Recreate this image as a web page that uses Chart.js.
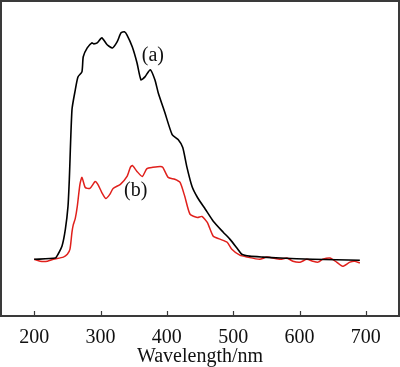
<!DOCTYPE html>
<html>
<head>
<meta charset="utf-8">
<script src="https://cdn.jsdelivr.net/npm/chart.js@4/dist/chart.umd.min.js"></script>
<style>
html,body{margin:0;padding:0;background:#fff;}
#wrap{width:400px;height:367px;position:relative;}
</style>
</head>
<body>
<div id="wrap"><canvas id="c" width="400" height="367"></canvas></div>
<script>
// Wavelength (nm) and absorbance (a.u.)
const waveA = [200,232,236,242,247,251,253,257,262,266,272,274,280,287,290,295,302,310,318,325,331,336,340,348,355,361,367,375,382,387,397,408,417,424,430,438,446,458,470,485,495,507,513,525,545,571,620,691];
const absA  = [0.180,0.184,0.196,0.222,0.275,0.348,0.434,0.655,0.718,0.759,0.775,0.823,0.851,0.867,0.864,0.867,0.883,0.861,0.851,0.870,0.899,0.902,0.892,0.854,0.804,0.750,0.759,0.782,0.750,0.709,0.646,0.576,0.560,0.535,0.475,0.411,0.377,0.339,0.301,0.266,0.244,0.212,0.196,0.190,0.187,0.184,0.180,0.177];

const waveB = [200,209,220,229,244,250,254,257,259,262,265,269,272,277,284,292,296,302,308,314,319,330,340,345,348,355,363,370,379,390,394,402,412,420,427,435,446,453,461,470,480,491,498,510,521,540,551,571,581,590,601,611,620,628,635,646,656,665,676,683,691];
const absB  = [0.180,0.174,0.174,0.180,0.187,0.196,0.212,0.266,0.290,0.310,0.348,0.418,0.440,0.408,0.405,0.427,0.418,0.392,0.373,0.386,0.405,0.418,0.443,0.472,0.478,0.459,0.443,0.468,0.472,0.475,0.472,0.440,0.434,0.424,0.380,0.323,0.313,0.316,0.297,0.253,0.244,0.234,0.212,0.193,0.187,0.180,0.187,0.180,0.184,0.174,0.171,0.180,0.174,0.171,0.180,0.184,0.171,0.158,0.171,0.174,0.168];

const xTicks = [200,300,400,500,600,700];
const curveLabels = ["(a)","(b)"];
const curveLabelWave = [379,353];
const curveLabelAbs = [0.825,0.397];

const FONT = "'Liberation Serif','Times New Roman',serif";
const FRAME = '#3a3a3a';

const toPts = (xs, ys) => xs.map((x,i)=>({x:x,y:ys[i]}));

const framePlugin = {
  id:'frame',
  afterDatasetsDraw(chart){
    const {ctx, chartArea:a, scales:{x,y}} = chart;
    ctx.save();
    ctx.strokeStyle = FRAME;
    ctx.lineWidth = 2;
    ctx.strokeRect(a.left, a.top, a.right-a.left, a.bottom-a.top);
    ctx.lineWidth = 1.2;
    ctx.beginPath();
    xTicks.forEach(t=>{
      const px = Math.round(x.getPixelForValue(t))+0.5;
      ctx.moveTo(px, a.bottom);
      ctx.lineTo(px, a.bottom-5);
    });
    ctx.stroke();
    ctx.fillStyle = '#111';
    ctx.font = "20px " + FONT;
    ctx.textAlign = 'center';
    ctx.textBaseline = 'middle';
    curveLabels.forEach((s,i)=>{
      ctx.fillText(s, x.getPixelForValue(curveLabelWave[i]), y.getPixelForValue(curveLabelAbs[i]));
    });
    ctx.restore();
  }
};

new Chart(document.getElementById('c'), {
  type:'scatter',
  data:{
    datasets:[
      {label:'(a)', data:toPts(waveA,absA), showLine:true, borderColor:'#000', borderWidth:1.6, pointRadius:0, tension:0.2, fill:false},
      {label:'(b)', data:toPts(waveB,absB), showLine:true, borderColor:'#e0201c', borderWidth:1.5, pointRadius:0, tension:0.2, fill:false}
    ]
  },
  options:{
    responsive:false,
    animation:false,
    devicePixelRatio:1,
    layout:{padding:{left:1,right:1,top:1,bottom:0}},
    plugins:{legend:{display:false}, tooltip:{enabled:false}},
    scales:{
      x:{
        type:'linear', min:150, max:750,
        afterBuildTicks(s){ s.ticks = xTicks.map(v=>({value:v})); },
        afterFit(s){ s.height = 51; },
        border:{display:false},
        grid:{display:false, drawTicks:false},
        ticks:{padding:10, color:'#111', font:{family:FONT, size:20}, maxRotation:0, autoSkip:false},
        title:{display:true, text:'Wavelength/nm', color:'#111', font:{family:FONT, size:20}, padding:{top:0,bottom:-2}}
      },
      y:{
        display:false, min:0, max:1
      }
    }
  },
  plugins:[framePlugin]
});
</script>
</body>
</html>
